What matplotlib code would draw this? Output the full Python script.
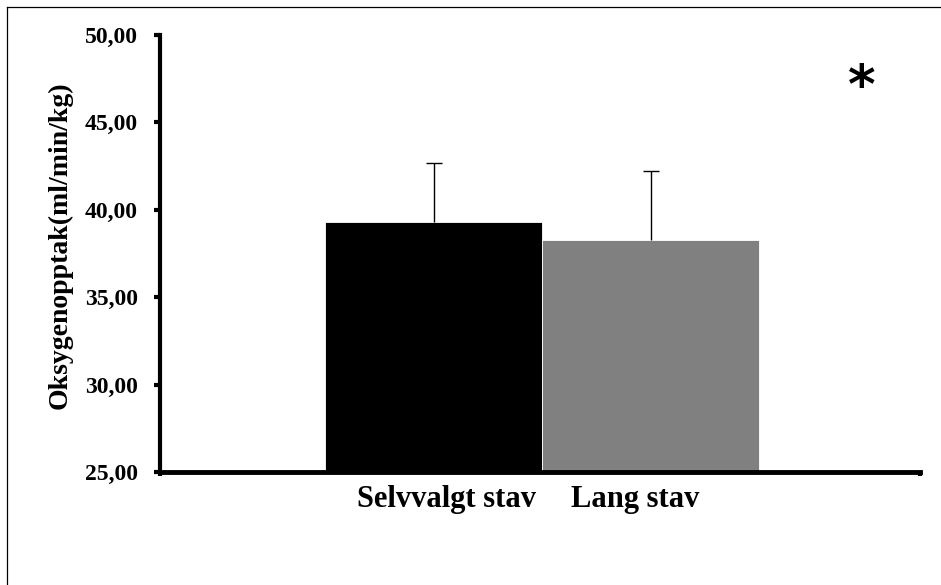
import matplotlib
matplotlib.use("Agg")
import matplotlib.pyplot as plt
from matplotlib.lines import Line2D

# data
categories = ["Selvvalgt stav", "Lang stav"]
means = [39.3, 38.3]
sd_upper = [3.4, 3.9]
bar_colors = ["#000000", "#808080"]
y_ticks = [25, 30, 35, 40, 45, 50]
y_tick_labels = ["25,00", "30,00", "35,00", "40,00", "45,00", "50,00"]

serif = "Liberation Serif"

fig = plt.figure(figsize=(9.41, 5.85), dpi=100)
ax = fig.add_axes([160 / 941, 1 - 472 / 585, 760 / 941, 437 / 585])

x = [0, 1]
tops = [m + s for m, s in zip(means, sd_upper)]
ax.bar(x, [m - 25 for m in means], bottom=25, width=1.0, color=bar_colors,
       edgecolor="white", linewidth=0.6, zorder=2)
# upper-only error bars: stem plus a single cap
ax.vlines(x, means, tops, colors="black", linewidth=1.0, zorder=3)
ax.plot(x, tops, linestyle="none", marker="_", markersize=11,
        markeredgewidth=1.0, color="black", zorder=3)

ax.set_xlim(-1.26, 2.24)
ax.set_ylim(25, 50)

# spines
for side in ["top", "right"]:
    ax.spines[side].set_visible(False)
ax.spines["left"].set_linewidth(3)
ax.spines["bottom"].set_linewidth(3.5)

ax.set_yticks(y_ticks)
ax.set_yticklabels(y_tick_labels, fontfamily=serif, fontweight="bold", fontsize=17)
ax.tick_params(axis="y", direction="out", length=4, width=3, pad=12)

# x ticks only at category ends, labels drawn as text
ax.set_xticks([-1.26, 2.24])
ax.set_xticklabels(["", ""])
ax.tick_params(axis="x", direction="out", length=3, width=3)

ax.annotate(categories[0], xy=(0.5, 25), xycoords="data", xytext=(-6, -13),
            textcoords="offset pixels", ha="right", va="top",
            fontfamily=serif, fontweight="bold", fontsize=22, annotation_clip=False)
ax.annotate(categories[1], xy=(0.5, 25), xycoords="data", xytext=(29, -13),
            textcoords="offset pixels", ha="left", va="top",
            fontfamily=serif, fontweight="bold", fontsize=22, annotation_clip=False)

ax.set_ylabel("Oksygenopptak(ml/min/kg)", fontfamily=serif, fontweight="bold",
              fontsize=20)
ax.yaxis.set_label_coords(-0.115, 0.52)

ax.text(0.924, 0.878, "*", transform=ax.transAxes, ha="center", va="center",
        fontfamily="DejaVu Sans", fontweight="bold", fontsize=38)

# thin outer frame (top and left visible)
fig.add_artist(Line2D([7 / 941, 1.0], [1 - 7 / 585, 1 - 7 / 585],
                      transform=fig.transFigure, color="black", lw=0.9))
fig.add_artist(Line2D([7 / 941, 7 / 941], [0.0, 1 - 7 / 585],
                      transform=fig.transFigure, color="black", lw=0.9))

fig.savefig("out.png", dpi=100)
